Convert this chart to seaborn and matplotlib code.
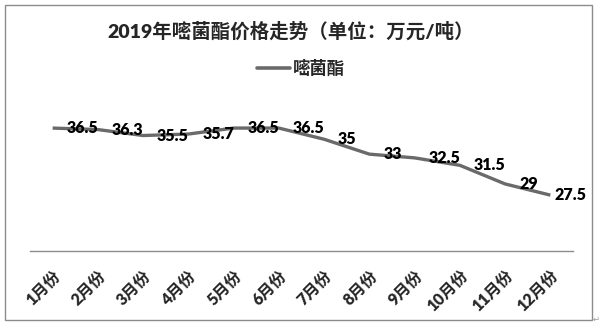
import matplotlib
matplotlib.use("Agg")
import matplotlib.pyplot as plt
from matplotlib.patches import Rectangle
import seaborn as sns
import pandas as pd

months = ["1月份", "2月份", "3月份", "4月份", "5月份", "6月份",
          "7月份", "8月份", "9月份", "10月份", "11月份", "12月份"]
prices = [36.5, 36.3, 35.5, 35.7, 36.5, 36.5, 35, 33, 32.5, 31.5, 29, 27.5]
series_name = "嘧菌酯"
title = "2019年嘧菌酯价格走势（单位：万元/吨）"

sns.set_style("white")
plt.rcParams["font.family"] = ["Lato", "Noto Sans CJK SC", "DejaVu Sans"]

df = pd.DataFrame({"month": months, "price": prices, "series": series_name})

fig = plt.figure(figsize=(6.01, 3.31), dpi=100)
ax = fig.add_axes([30 / 601, 80 / 331, 543 / 601, 149 / 331])

line_color = "#6a6a6a"
sns.lineplot(data=df, x="month", y="price", hue="series", palette=[line_color],
             linewidth=2.4, sort=False, ax=ax, legend=False)
for ln in ax.lines:
    ln.set_solid_joinstyle("round")
    ln.set_solid_capstyle("butt")

ax.set_xlim(-0.5, len(months) - 0.5)
ax.set_ylim(20, 40)
ax.set_xlabel("")
ax.set_ylabel("")
ax.set_yticks([])

for side in ("top", "right", "left"):
    ax.spines[side].set_visible(False)
ax.spines["bottom"].set_color("#8c8c8c")
ax.spines["bottom"].set_linewidth(1.0)

ax.set_xticks(range(len(months)))
ax.set_xticklabels(months, rotation=45, ha="right", rotation_mode="anchor",
                   fontsize=11.5, fontweight="heavy")
ax.tick_params(axis="x", length=0, pad=12)

# value labels to the right of each point
for i, v in enumerate(prices):
    dx = 10 if i < len(prices) - 1 else 3
    ax.annotate(f"{v:g}", xy=(i, v), xytext=(dx, 0), textcoords="offset points",
                ha="left", va="center", fontsize=11.5, fontweight="heavy",
                color="black")

fig.text(291 / 601, 1 - 31 / 331, title, ha="center", va="center",
         fontsize=14, fontweight="heavy")

handle = plt.Line2D([], [], color=line_color, linewidth=2.6)
fig.legend([handle], [series_name], loc="center", bbox_to_anchor=(301 / 601, 1 - 68 / 331),
           frameon=False, handlelength=1.9, handletextpad=0.15,
           prop={"weight": "heavy", "size": 12.5})

fig.patches.append(Rectangle((5 / 601, 1 - 320 / 331), 587 / 601, 315 / 331,
                             transform=fig.transFigure, fill=False,
                             edgecolor="#8c8c8c", linewidth=1.0))
fig.text(596 / 601, 1 - 319 / 331, "↵", ha="center", va="center",
         fontsize=6, color="#9a9a9a", family="DejaVu Sans")

fig.savefig("out.png", dpi=100)
